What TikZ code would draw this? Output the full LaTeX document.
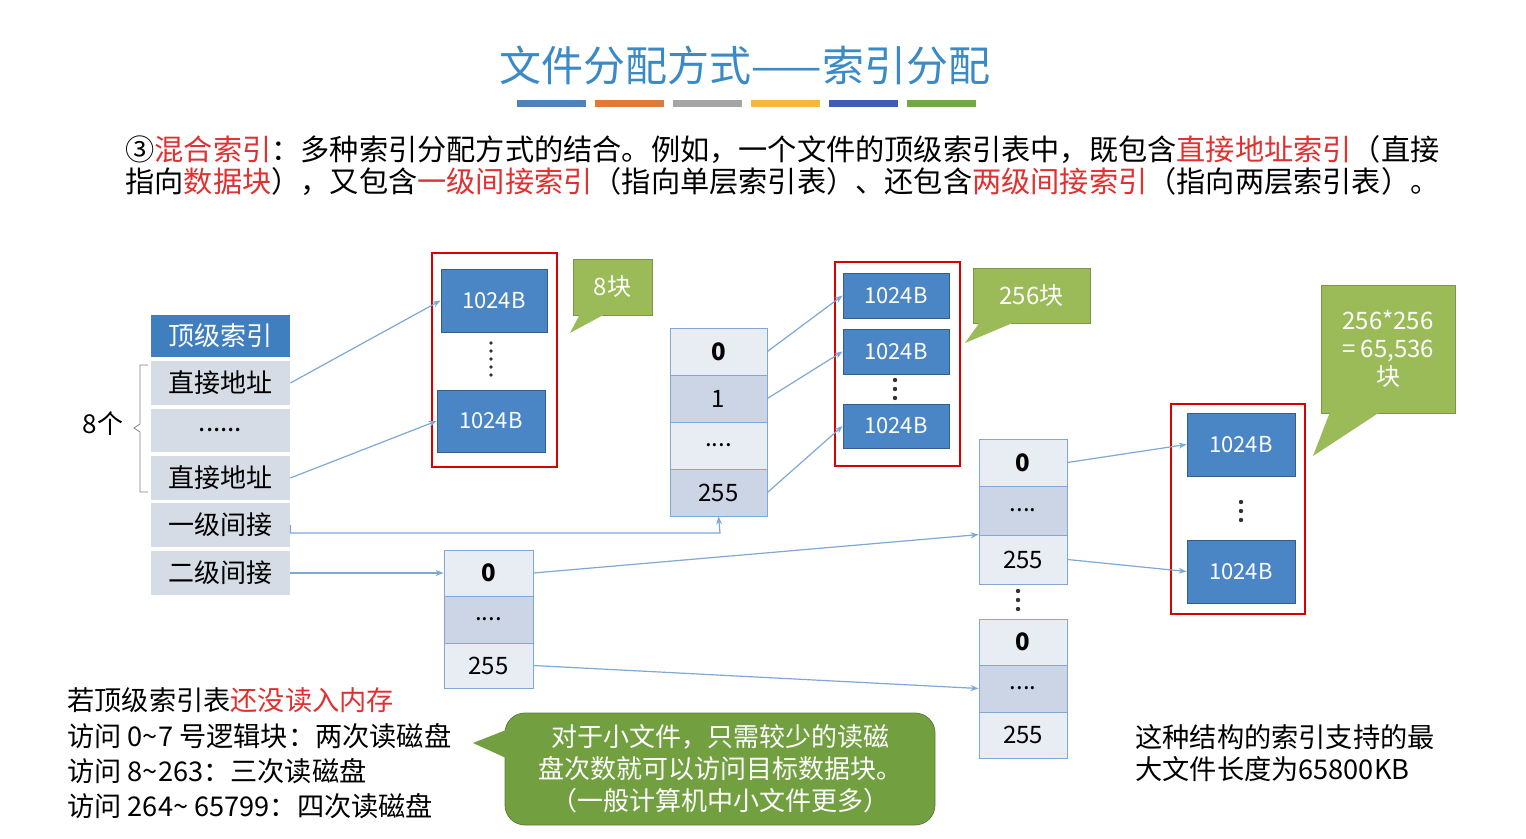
\documentclass[tikz,border=0pt]{standalone}
\usepackage{fontspec}
\setmainfont{Noto Sans CJK SC}
\usetikzlibrary{arrows.meta}
\definecolor{ttl}{HTML}{3A8AC8}
\definecolor{hdr}{HTML}{3F7FC0}
\definecolor{rowc}{HTML}{D6DCE5}
\definecolor{rowa}{HTML}{E8ECF3}
\definecolor{rowb}{HTML}{CBD5E6}
\definecolor{blk}{HTML}{4A86C5}
\definecolor{cal}{HTML}{9BBB59}
\definecolor{gcal}{HTML}{72A040}
\definecolor{arr}{HTML}{7FA8D6}
\definecolor{redt}{HTML}{E03030}
\newcommand{\bx}[7]{\node[#6,minimum width={(#4-#2)*0.5pt},minimum height={(#5-#3)*0.5pt}] (#1) at ({(#2+#4)/2},{(#3+#5)/2}) {#7};}
\newcommand{\vdts}[2]{\foreach \d in {-9,0,9}{\fill[black!80] (#1,{#2+\d}) circle (1.1pt);}}
\begin{document}
\begin{tikzpicture}[x=0.5pt,y=-0.5pt,
 rowt/.style={fill=rowc,inner sep=0,font=\fontsize{13}{15}\selectfont},
 hdrt/.style={fill=hdr,text=white,inner sep=0,font=\fontsize{13}{15}\selectfont},
 cellA/.style={draw=arr,fill=rowa,inner sep=0,font=\fontsize{12}{14}\selectfont},
 cellB/.style={draw=arr,fill=rowb,inner sep=0,font=\fontsize{12}{14}\selectfont},
 blkt/.style={draw=blk!70!black,fill=blk,text=white,inner sep=0,font=\fontsize{11}{13}\selectfont},
 redbox/.style={draw=red!85!black,line width=1.2pt,inner sep=0},
 callt/.style={draw=cal!80!black,fill=cal,text=white,inner sep=0,font=\fontsize{12}{14}\selectfont,align=center},
 con/.style={draw=arr,line width=0.6pt,-{Stealth[length=4pt]}},
 para/.style={anchor=west,inner sep=0,font=\fontsize{14.6}{17}\selectfont},
 btxt/.style={anchor=west,inner sep=0,font=\fontsize{13.6}{16}\selectfont}]
\useasboundingbox (0,0) rectangle (1526,839);
\fill[white] (0,0) rectangle (1526,839);
\node[text=ttl,font=\fontsize{21}{25}\selectfont] (title) at (745,65) {文件分配方式——索引分配};
\foreach \i/\c in {0/4F81BD,1/E07A3A,2/A5A5A5,3/F2B93A,4/3A5FAF,5/72A848}{
 \definecolor{bc}{HTML}{\c}\fill[bc] ({517+\i*78},100) rectangle ({586+\i*78},107);}
\node[para] (p1) at (125,150) {③\textcolor{redt}{混合索引}：多种索引分配方式的结合。例如，一个文件的顶级索引表中，既包含\textcolor{redt}{直接地址索引}（直接};
\node[para] (p2) at (125,182) {指向\textcolor{redt}{数据块}），又包含\textcolor{redt}{一级间接索引}（指向单层索引表）、还包含\textcolor{redt}{两级间接索引}（指向两层索引表）。};
% top index table
\bx{h}{151}{315}{290}{357}{hdrt}{顶级索引}
\bx{d1}{151}{361}{290}{405}{rowt}{直接地址}
\bx{dd}{151}{409}{290}{452}{rowt}{......}
\bx{d2}{151}{456}{290}{500}{rowt}{直接地址}
\bx{i1}{151}{503}{290}{547}{rowt}{一级间接}
\bx{i2}{151}{551}{290}{595}{rowt}{二级间接}
\draw[gray] (148,365) -- (140,365) -- (140,424) -- (134,428) -- (140,432) -- (140,492) -- (148,492);
\node[font=\fontsize{13}{15}\selectfont] (eight) at (103,424) {8个};
% red box 1
\bx{r1}{432}{253}{557}{467}{redbox}{}
\bx{b1}{441}{269}{547}{332}{blkt}{1024B}
\bx{b2}{437}{390}{545}{452}{blkt}{1024B}
\foreach \d in {343,351,359,367,375}{\fill[black!80] (491,\d) circle (0.9pt);}
\bx{c1}{573}{259}{652}{315}{callt}{8块}
\fill[cal] (580,314) -- (570,333) -- (605,314) -- cycle;
% table 1
\bx{t10}{670}{328}{767}{375}{cellA}{\textbf{0}}
\bx{t11}{670}{375}{767}{422}{cellB}{1}
\bx{t12}{670}{422}{767}{469}{cellA}{....}
\bx{t13}{670}{469}{767}{516}{cellB}{255}
% red box 2
\bx{r2}{835}{262}{960}{466}{redbox}{}
\bx{e1}{843}{273}{949}{318}{blkt}{1024B}
\bx{e2}{843}{329}{949}{374}{blkt}{1024B}
\bx{e3}{843}{404}{949}{448}{blkt}{1024B}
\vdts{895}{389}
\bx{c2}{973}{268}{1090}{323}{callt}{256块}
\fill[cal] (980,322) -- (965,343) -- (1015,322) -- cycle;
% table 2
\bx{t20}{444}{550}{533}{596}{cellA}{\textbf{0}}
\bx{t21}{444}{596}{533}{643}{cellB}{....}
\bx{t22}{444}{643}{533}{688}{cellA}{255}
% table 3 and 4
\bx{t30}{979}{439}{1067}{486}{cellA}{\textbf{0}}
\bx{t31}{979}{486}{1067}{535}{cellB}{....}
\bx{t32}{979}{535}{1067}{584}{cellA}{255}
\vdts{1018}{600}
\bx{t40}{979}{619}{1067}{665}{cellA}{\textbf{0}}
\bx{t41}{979}{665}{1067}{712}{cellB}{....}
\bx{t42}{979}{712}{1067}{758}{cellA}{255}
% red box 3
\bx{r3}{1171}{404}{1305}{614}{redbox}{}
\bx{f1}{1187}{413}{1295}{476}{blkt}{1024B}
\bx{f2}{1187}{540}{1295}{603}{blkt}{1024B}
\vdts{1241}{511}
\bx{c3}{1321}{285}{1455}{413}{callt}{256*256\\= 65,536\\块}
\fill[cal] (1330,412) -- (1313,456) -- (1380,412) -- cycle;
% connectors
\draw[con] (d1.east) -- (b1.west);
\draw[con] (d2.east) -- (b2.west);
\coordinate (k1) at (720,533);
\draw[con] (i1.east) |- (k1) -- (t13.south);
\draw[con] (i2.east) -- (t20.west);
\draw[con] (t10.east) -- (e1.west);
\draw[con] (t11.east) -- (e2.west);
\draw[con] (t13.east) -- (e3.west);
\draw[con] (t20.east) -- (t32.north west);
\draw[con] (t22.east) -- (t41.west);
\draw[con] (t30.east) -- (f1.west);
\draw[con] (t32.east) -- (f2.west);
% bottom texts
\node[btxt] (l1) at (67,700) {若顶级索引表\textcolor{redt}{还没读入内存}};
\node[btxt] (l2) at (67,736) {访问 0\textasciitilde7 号逻辑块：两次读磁盘};
\node[btxt] (l3) at (67,771) {访问 8\textasciitilde263：三次读磁盘};
\node[btxt] (l4) at (67,806) {访问 264\textasciitilde{} 65799：四次读磁盘};
\node[draw=gcal!80!black,fill=gcal,rounded corners=10pt,text=white,align=center,minimum width=215pt,minimum height=56pt,font=\fontsize{13}{16}\selectfont] (gc) at (720,769) {对于小文件，只需较少的读磁\\盘次数就可以访问目标数据块。\\（一般计算机中小文件更多）};
\fill[gcal] (506,730) -- (473,743) -- (506,758) -- cycle;
\node[btxt,align=left] (rt) at (1135,753) {这种结构的索引支持的最\\大文件长度为65800KB};
\end{tikzpicture}
\end{document}
